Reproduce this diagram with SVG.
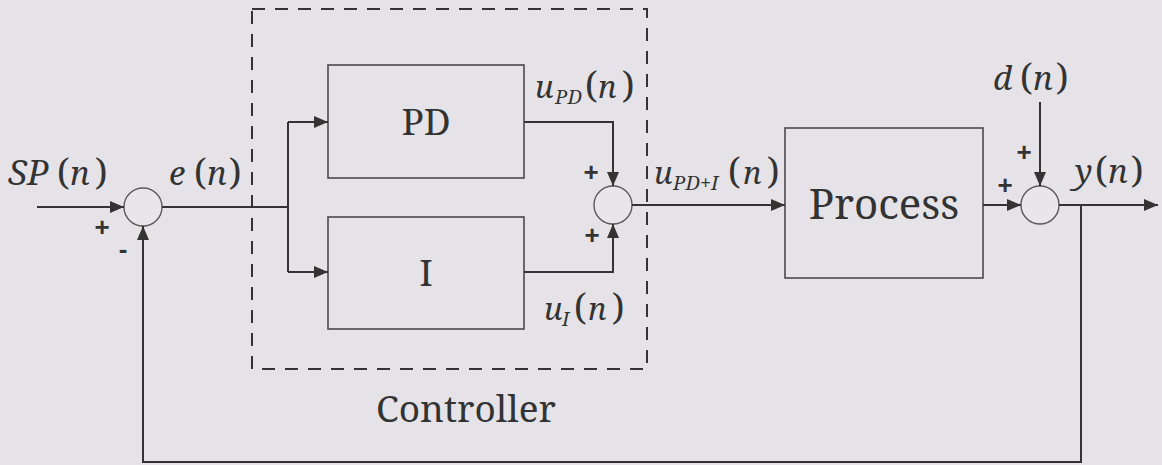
<svg xmlns="http://www.w3.org/2000/svg" width="1162" height="465" viewBox="0 0 1162 465">
<defs>
<style>
.bg{fill:#e5e3e7}
.box{fill:none;stroke:#4a4a4a;stroke-width:1.6}
.sum{fill:#e8e6ea;stroke:#5a5a5a;stroke-width:1.4}
.ln{fill:none;stroke:#333;stroke-width:2}
.dash{fill:none;stroke:#333;stroke-width:2;stroke-dasharray:13 10}
.t{fill:#333;font-family:'Noto Serif','Liberation Serif','DejaVu Serif',serif}
.it{font-style:italic;fill:#333;font-family:'Noto Serif','Liberation Serif','DejaVu Serif',serif}
.par{fill:#333;font-size:36px;font-family:'Noto Serif','Liberation Serif','DejaVu Serif',serif}
.sg{font-family:'Liberation Sans',Arial,sans-serif;font-weight:bold;fill:#333;font-size:26px;text-anchor:middle}
</style>
<marker id="ah" markerWidth="14" markerHeight="12" refX="14" refY="6" orient="auto" markerUnits="userSpaceOnUse">
<path d="M0,0 L14,6 L0,12 z" fill="#333"/>
</marker>
</defs>
<rect class="bg" x="0" y="0" width="1162" height="465"/>

<g id="controller">
<rect class="dash" x="252" y="9" width="395" height="360"/>
<text class="t" x="466" y="422" font-size="37" text-anchor="middle">Controller</text>
</g>

<g id="sum1">
<circle class="sum" cx="143" cy="207" r="19"/>
<text class="sg" x="102" y="236">+</text>
<text class="sg" x="123" y="258" font-size="36">-</text>
</g>

<g id="pd">
<rect class="box" x="328" y="65" width="196" height="113"/>
<text class="t" x="426" y="135" font-size="37" text-anchor="middle">PD</text>
</g>

<g id="i">
<rect class="box" x="328" y="217" width="196" height="112"/>
<text class="t" x="426" y="286" font-size="37" text-anchor="middle">I</text>
</g>

<g id="sum2">
<circle class="sum" cx="613" cy="205" r="19"/>
<text class="sg" x="591" y="181">+</text>
<text class="sg" x="592" y="244">+</text>
</g>

<g id="process">
<rect class="box" x="785" y="128" width="198" height="150"/>
<text class="t" x="884" y="219" font-size="42" text-anchor="middle">Process</text>
</g>

<g id="sum3">
<circle class="sum" cx="1040" cy="205" r="19"/>
<text class="sg" x="1024" y="161">+</text>
<text class="sg" x="1005" y="194">+</text>
</g>

<g id="connectors">
<path class="ln" d="M37,207 L124,207" marker-end="url(#ah)"/>
<path class="ln" d="M1081,205 L1081,462 L143,462 L143,226" marker-end="url(#ah)"/>
<path class="ln" d="M162,207 L288,207"/>
<path class="ln" d="M288,122 L288,272"/>
<path class="ln" d="M288,122 L328,122" marker-end="url(#ah)"/>
<path class="ln" d="M288,272 L328,272" marker-end="url(#ah)"/>
<path class="ln" d="M524,122 L613,122 L613,186" marker-end="url(#ah)"/>
<path class="ln" d="M524,272 L613,272 L613,224" marker-end="url(#ah)"/>
<path class="ln" d="M632,205 L785,205" marker-end="url(#ah)"/>
<path class="ln" d="M983,205 L1021,205" marker-end="url(#ah)"/>
<path class="ln" d="M1040,102 L1040,186" marker-end="url(#ah)"/>
<path class="ln" d="M1059,205 L1158,205" marker-end="url(#ah)"/>
</g>

<g id="labels">
<text y="185"><tspan class="it" x="8" font-size="35">SP</tspan><tspan class="par" x="57">(</tspan><tspan class="it" x="70" font-size="33">n</tspan><tspan class="par" x="95">)</tspan></text>
<text y="185"><tspan class="it" x="169" font-size="33">e</tspan><tspan class="par" x="194">(</tspan><tspan class="it" x="207" font-size="33">n</tspan><tspan class="par" x="229">)</tspan></text>
<text y="98"><tspan class="it" x="535" font-size="31">u</tspan><tspan class="it" x="555" dy="6" font-size="20">PD</tspan><tspan class="par" x="585" dy="-6">(</tspan><tspan class="it" x="598" font-size="31">n</tspan><tspan class="par" x="622">)</tspan></text>
<text y="320"><tspan class="it" x="544" font-size="31">u</tspan><tspan class="it" x="562" dy="6" font-size="20">I</tspan><tspan class="par" x="574" dy="-6">(</tspan><tspan class="it" x="588" font-size="31">n</tspan><tspan class="par" x="612">)</tspan></text>
<text y="184"><tspan class="it" x="654" font-size="31">u</tspan><tspan class="it" x="673" dy="6" font-size="20">PD+I</tspan><tspan class="par" x="728" dy="-6">(</tspan><tspan class="it" x="743" font-size="31">n</tspan><tspan class="par" x="767">)</tspan></text>
<text y="90"><tspan class="it" x="993" font-size="33">d</tspan><tspan class="par" x="1020">(</tspan><tspan class="it" x="1033" font-size="33">n</tspan><tspan class="par" x="1056">)</tspan></text>
<text y="183"><tspan class="it" x="1075" font-size="33">y</tspan><tspan class="par" x="1095">(</tspan><tspan class="it" x="1108" font-size="33">n</tspan><tspan class="par" x="1131">)</tspan></text>
</g>
</svg>
